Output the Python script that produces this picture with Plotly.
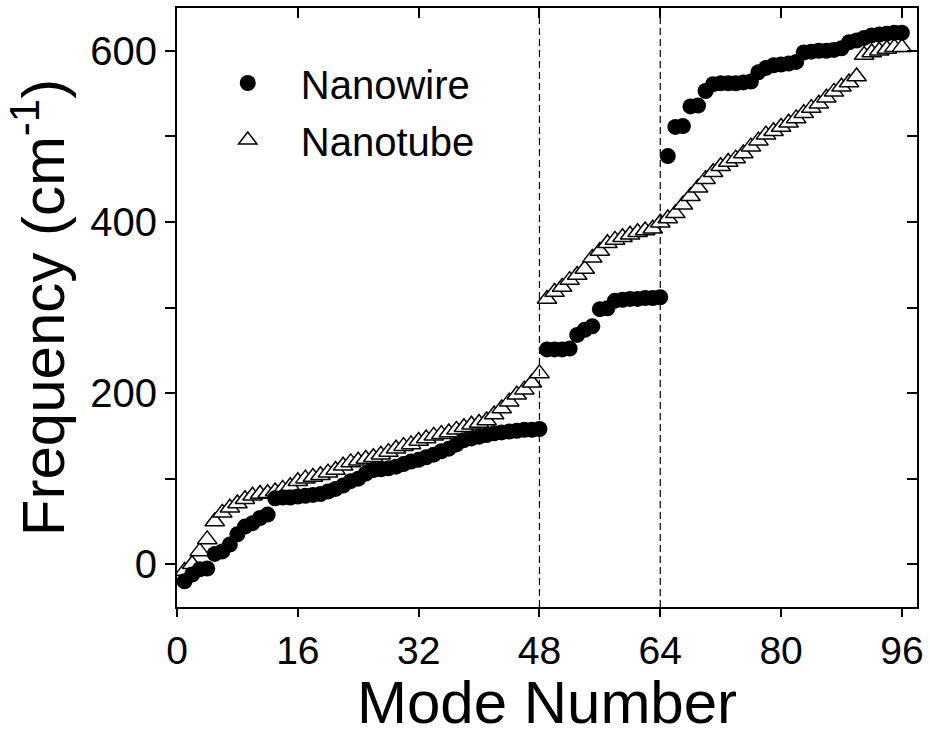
import plotly.graph_objects as go

modes = list(range(1, 97))

nanowire = [-20, -12, -6, -5, 12, 15, 23, 35, 44, 48, 54, 58,
            77, 78, 78, 79, 80, 81, 82, 85, 88, 92, 97, 100,
            106, 110, 111, 112, 114, 117, 120, 122, 125, 128, 132, 135,
            140, 145, 147, 149, 151, 153, 154, 155, 156, 157, 157, 158,
            251, 251, 251, 252, 268, 274, 278, 298, 299, 308, 309, 310,
            310, 311, 311, 312, 477, 511, 512, 535, 536, 553, 561, 562,
            562, 562, 563, 564, 575, 580, 583, 584, 585, 587, 598, 599,
            600, 600, 601, 603, 610, 612, 615, 618, 619, 620, 621, 621]

nanotube = [-8, 0, 15, 29, 50, 60, 66, 71, 76, 80, 82, 83,
            85, 88, 91, 97, 100, 102, 104, 107, 110, 115, 119, 121,
            123, 125, 128, 131, 135, 138, 140, 144, 147, 150, 152, 154,
            157, 160, 163, 165, 168, 175, 182, 190, 198, 204, 212, 223,
            310, 318, 324, 332, 338, 345, 358, 366, 375, 379, 382, 385,
            388, 390, 392, 399, 404, 410, 420, 430, 440, 450, 458, 465,
            470, 474, 480, 488, 495, 502, 506, 511, 516, 521, 527, 533,
            538, 545, 552, 558, 563, 570, 595, 598, 600, 602, 604, 604]

x_ticks = [0, 16, 32, 48, 64, 80, 96]
y_ticks = [0, 200, 400, 600]
divider_modes = [48, 64]
x_range = [0, 98]
y_range = [-50, 650]

FONT = "Liberation Sans, Arial, sans-serif"

fig = go.Figure()
fig.add_trace(go.Scatter(
    x=modes, y=nanotube, mode="markers", name="Nanotube", legendgroup="b",
    legendrank=2,
    marker=dict(symbol="triangle-up", size=17, color="white",
                line=dict(color="black", width=1.5))))
fig.add_trace(go.Scatter(
    x=modes, y=nanowire, mode="markers", name="Nanowire", legendgroup="a",
    legendrank=1,
    marker=dict(symbol="circle", size=16, color="black",
                line=dict(color="black", width=0))))
# helper trace for the mirrored (inside-tick) axes
fig.add_trace(go.Scatter(x=[0], y=[0], xaxis="x2", yaxis="y2", mode="markers",
                         marker=dict(opacity=0), showlegend=False, hoverinfo="skip"))

for m in divider_modes:
    fig.add_shape(type="line", xref="x", yref="paper", x0=m, x1=m, y0=0, y1=1,
                  line=dict(color="black", width=1.2, dash="7px,4px"))

axis_common = dict(showgrid=False, zeroline=False, linecolor="black",
                   tickcolor="black", tickwidth=2)

fig.update_layout(
    width=930, height=736,
    margin=dict(l=177, r=9, t=6, b=129),
    paper_bgcolor="white", plot_bgcolor="white",
    font=dict(family=FONT, color="black"),
    showlegend=True,
    legend=dict(x=0.024, y=0.929, xanchor="left", yanchor="top",
                traceorder="grouped", tracegroupgap=2,
                font=dict(size=40, family=FONT), itemwidth=96,
                bgcolor="rgba(0,0,0,0)"),
    xaxis=dict(range=x_range, tickvals=x_ticks, ticks="outside", ticklen=8,
               showline=True, linewidth=2, mirror=True,
               tickfont=dict(size=39),
               title=dict(text="Mode Number", font=dict(size=60), standoff=8),
               **axis_common),
    yaxis=dict(range=y_range, tickvals=y_ticks, ticks="outside", ticklen=10,
               showline=True, linewidth=2, mirror=True,
               minor=dict(dtick=100, tick0=0, ticks="outside", ticklen=10,
                          tickwidth=2, tickcolor="black"),
               tickfont=dict(size=40),
               title=dict(text="Frequency (cm<sup>-1</sup>)", font=dict(size=60), standoff=6),
               **axis_common),
    xaxis2=dict(range=x_range, overlaying="x", side="top", anchor="y",
                tickvals=x_ticks, ticks="inside", ticklen=10, showticklabels=False,
                showline=False, **axis_common),
    yaxis2=dict(range=y_range, overlaying="y", side="right", anchor="x",
                dtick=100, tick0=0, ticks="inside", ticklen=10, showticklabels=False,
                showline=False, **axis_common),
)

fig.write_html("out.html")
